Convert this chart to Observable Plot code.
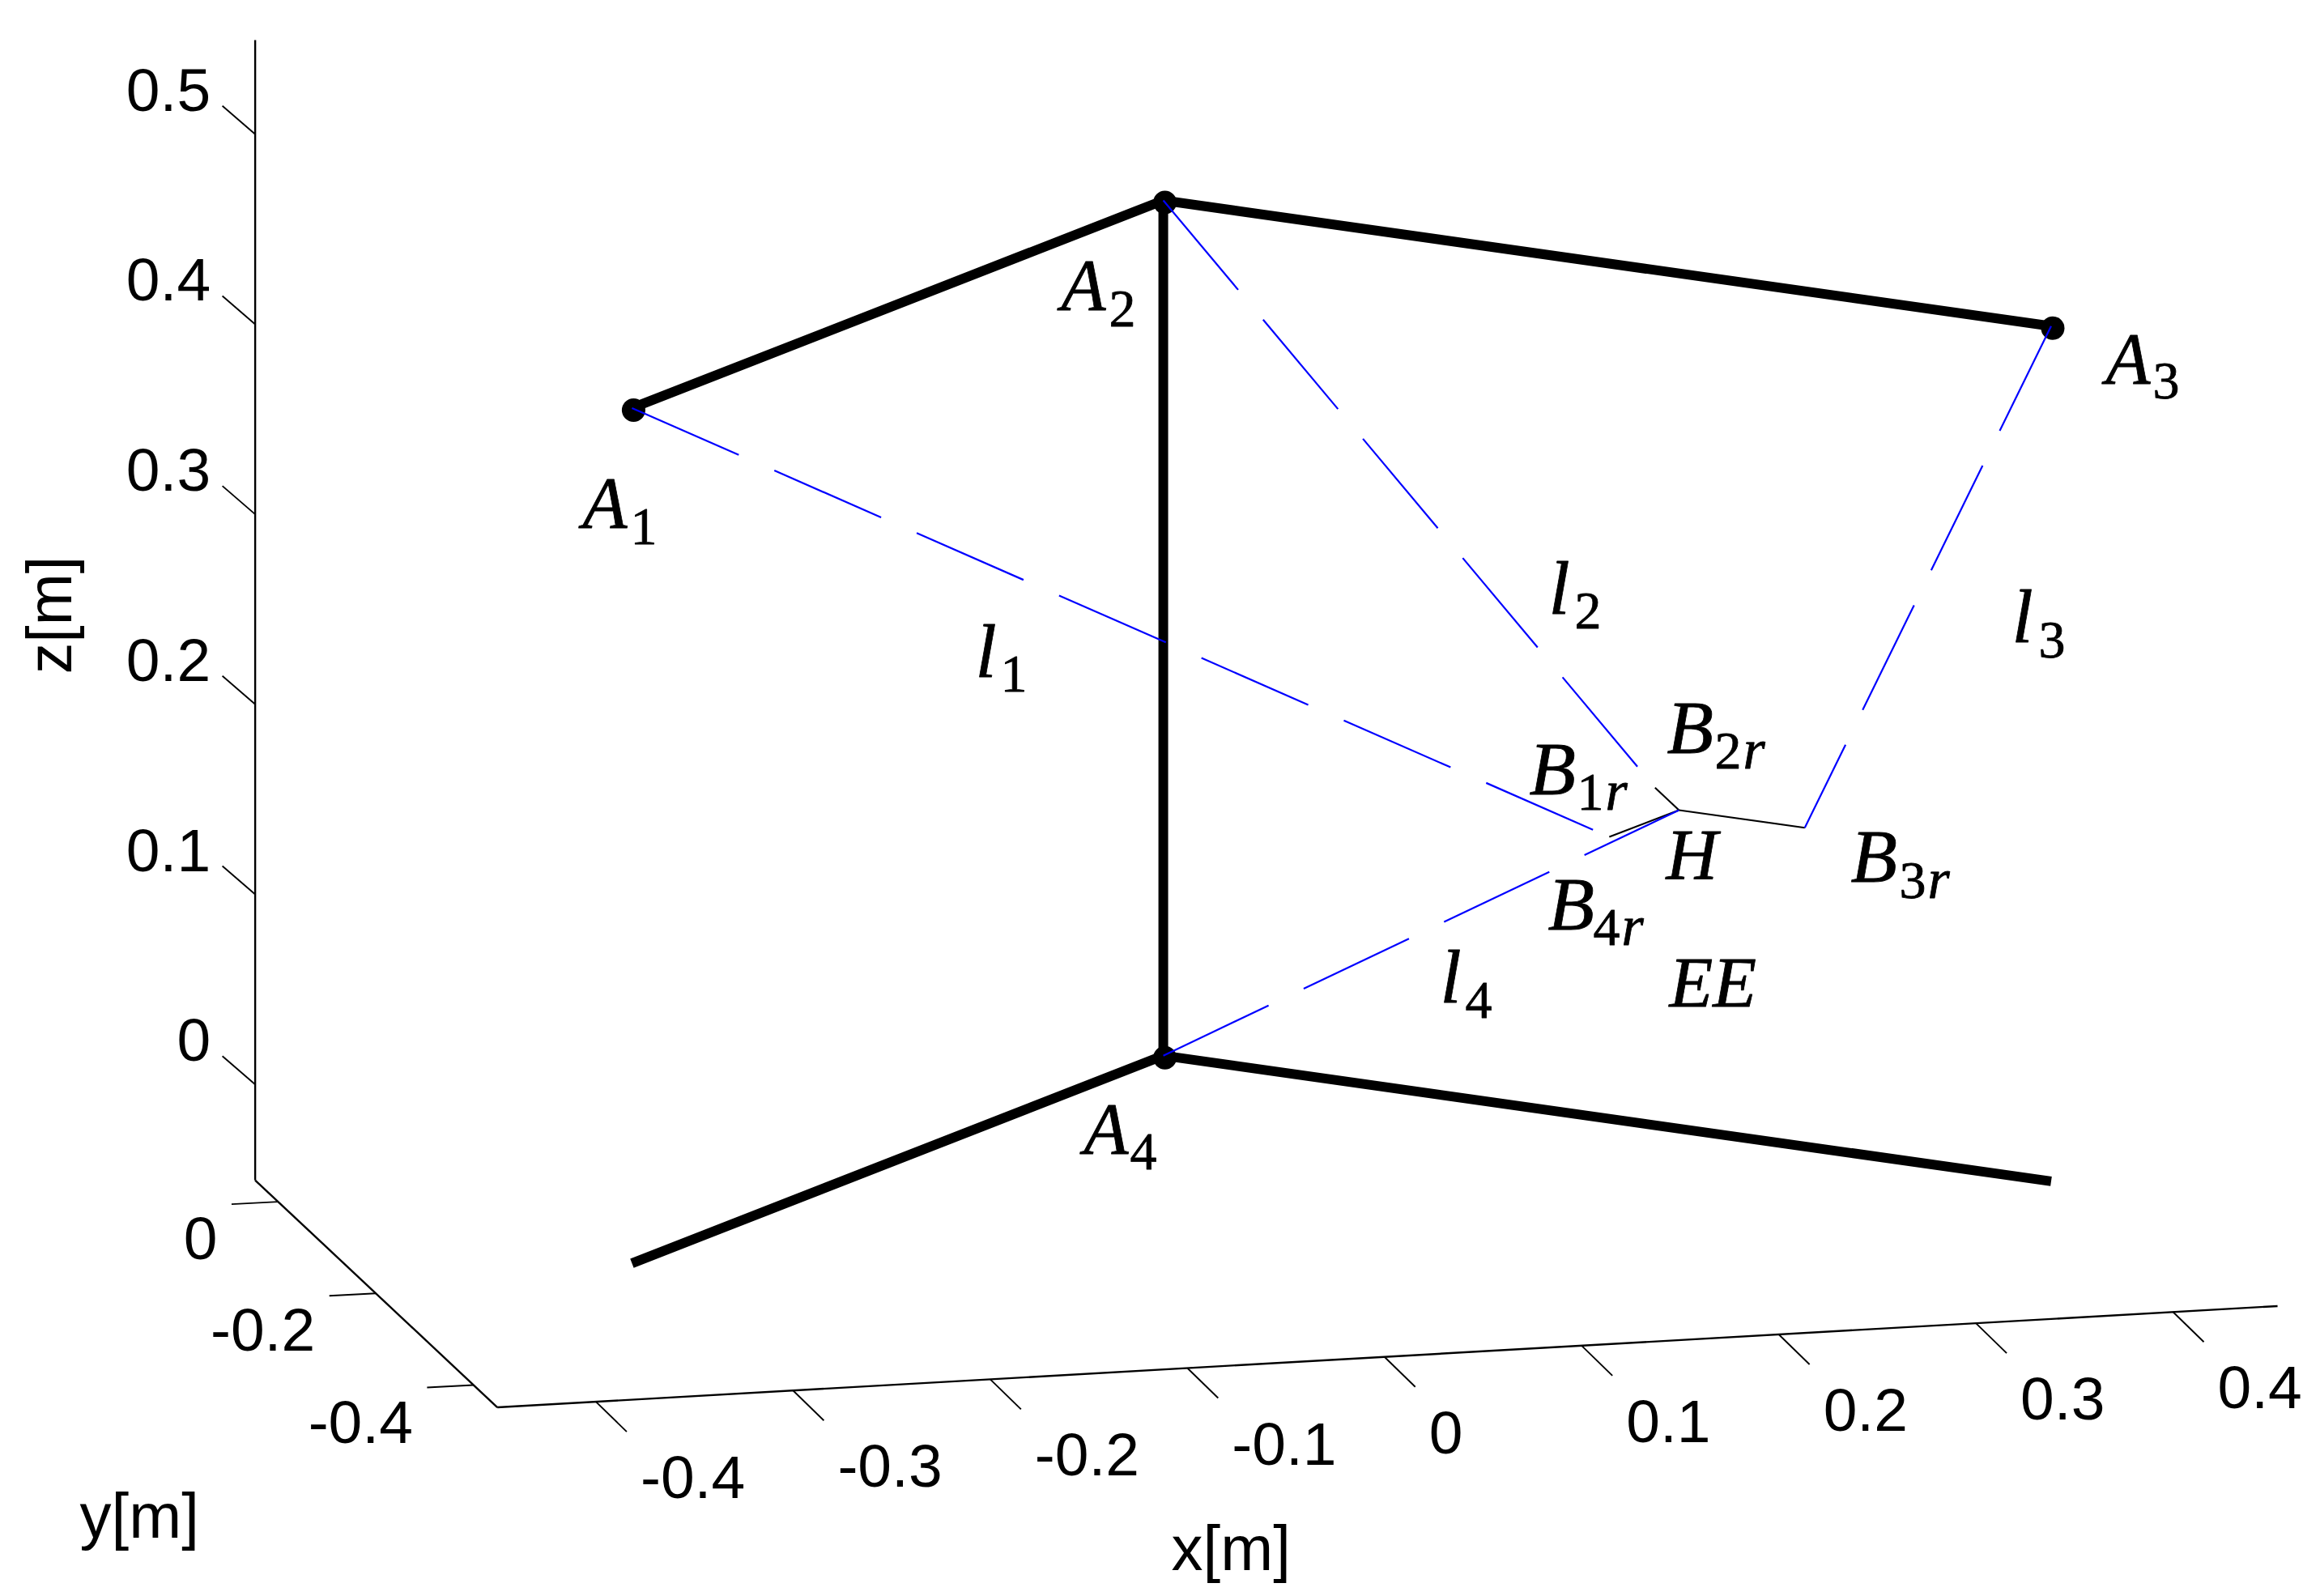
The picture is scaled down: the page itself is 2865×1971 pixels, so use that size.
<!DOCTYPE html>
<html>
<head>
<meta charset="utf-8">
<script src="https://cdn.jsdelivr.net/npm/d3@7"></script>
<script src="https://cdn.jsdelivr.net/npm/@observablehq/plot@0.6"></script>
<style>html,body{margin:0;padding:0;background:#fff}svg{display:block}</style>
</head>
<body>
<div id="chart"></div>
<script>
// Axis limits and ticks (metres)
const xLimits = [-0.45, 0.453];
const yLimits = [-0.4486, 0.047];
const zLimits = [-0.0504, 0.5495];
const xTicks = [-0.4, -0.3, -0.2, -0.1, 0, 0.1, 0.2, 0.3, 0.4];
const yTicks = [0, -0.2, -0.4];
const zTicks = [0, 0.1, 0.2, 0.3, 0.4, 0.5];

// Frame anchor points (x, y, z in metres)
const A1 = [-0.361, -0.365, 0.45];
const A2 = [-0.001, 0, 0.45];
const A3 = [0.3595, -0.3625, 0.45];
const A4 = [-0.001, 0, 0];
const F1 = [-0.361, -0.365, 0];
const F3 = [0.3595, -0.3625, 0];

// Moving platform
const H = [0.2234, -0.15, 0.1521];
const B1 = [0.1764, -0.197, 0.1521];
const B2 = [0.2234, -0.101, 0.1521];
const B3 = [0.2746, -0.2009, 0.1521];

const frameLines = [[A1, A2, A3], [F1, A4, F3], [A2, A4]];
const platformLines = [[B1, H], [B2, H], [B3, H]];
const cables = [[A1, B1], [A2, B2], [A3, B3], [A4, H]];
const anchors = [A1, A2, A3, A4];

// Projection of the MATLAB view: page units per metre
const origin = [1438.5, 1303];
const ex = [2434.5, -138.5], ey = [-603.5, -566], ez = [0, -2347];
const px = ([x, y, z]) => origin[0] + x * ex[0] + y * ey[0] + z * ez[0];
const py = ([x, y, z]) => origin[1] + x * ex[1] + y * ey[1] + z * ez[1];

const [xa, xb] = xLimits, [ya, yb] = yLimits, [za, zb] = zLimits;
const axisLines = [
  [[xa, ya, za], [xb, ya, za]],
  [[xa, ya, za], [xa, yb, za]],
  [[xa, yb, za], [xa, yb, zb]]
];
const xTickPts = xTicks.map(v => [v, ya, za]);
const yTickPts = yTicks.map(v => [xa, v, za]);
const zTickPts = zTicks.map(v => [xa, yb, v]);
const fmt = v => String(v);

// Symbol labels: main letter, subscript digit
const mainLabels = ["A","A","A","A","l","l","l","l","B","B","B","B","H","EE"];
const mainX = [719,1310,2600,1338,1204,1912,2484,1778,1888,2058,2285,1911,2057,2061];
const mainY = [651,382,473,1424,835,757,792,1237,980,929,1088,1147,1084,1242];
const subLabels = ["1","2","3","4","1","2","3","4","1","2","3","4"];
const subX = [778,1369,2658,1395,1235,1944,2517,1809,1947,2117,2345,1967];
const subY = [671,402,491,1443,853,775,811,1256,999,948,1108,1166];
const rX = subX.slice(8).map(v => v + 35);
const rY = subY.slice(8);

const sansFont = "Liberation Sans, Arial, sans-serif";
const mathFont = "Liberation Serif, Times New Roman, serif";
const tickFont = {fontFamily: sansFont, fontSize: 75, lineAnchor: "bottom", fill: "#000"};
const mathInk = {fill: "#000", stroke: "#000", strokeWidth: 0.8, textAnchor: "start", lineAnchor: "bottom", fontFamily: mathFont};
const lineStyle = {stroke: "#000", strokeLinecap: "butt", strokeLinejoin: "round"};
const idx = a => a.map((_, i) => i);

const plot = Plot.plot({
  width: 2865,
  height: 1971,
  margin: 0,
  style: {background: "#fff"},
  x: {domain: [0, 2865], range: [0, 2865], axis: null},
  y: {domain: [0, 1971], range: [0, 1971], axis: null},
  marks: [
    // axes
    ...axisLines.map(l => Plot.line(l, {x: px, y: py, ...lineStyle, strokeWidth: 2.4})),
    Plot.link(xTickPts, {x1: px, y1: py, x2: d => px(d) + 38, y2: d => py(d) + 37, ...lineStyle, strokeWidth: 1.9}),
    Plot.link(yTickPts, {x1: px, y1: py, x2: d => px(d) - 57.5, y2: d => py(d) + 3, ...lineStyle, strokeWidth: 1.9}),
    Plot.link(zTickPts, {x1: px, y1: py, x2: d => px(d) - 40.5, y2: d => py(d) - 35, ...lineStyle, strokeWidth: 1.9}),
    Plot.text(xTicks, {x: v => px([v, ya, za]), y: v => py([v, ya, za]), text: fmt, textAnchor: "start", dx: 55, dy: 119, ...tickFont}),
    Plot.text(yTicks, {x: v => px([xa, v, za]), y: v => py([xa, v, za]), text: fmt, textAnchor: "end", dx: -75, dy: 71, ...tickFont}),
    Plot.text(zTicks, {x: v => px([xa, yb, v]), y: v => py([xa, yb, v]), text: fmt, textAnchor: "end", dx: -55, dy: -29, ...tickFont}),
    // axis titles
    Plot.text(["x[m]"], {x: () => 1446, y: () => 1938, text: d => d, textAnchor: "start", ...tickFont, fontSize: 78}),
    Plot.text(["y[m]"], {x: () => 98, y: () => 1898, text: d => d, textAnchor: "start", ...tickFont, fontSize: 78}),
    Plot.text(["z[m]"], {x: () => 87, y: () => 759, text: d => d, textAnchor: "middle", rotate: -90, ...tickFont, fontSize: 77}),
    // frame
    ...frameLines.map(l => Plot.line(l, {x: px, y: py, ...lineStyle, strokeWidth: 12})),
    Plot.dot(anchors, {x: px, y: py, r: 14.5, fill: "#000", dx: 2, dy: 2.5}),
    // platform
    ...platformLines.map(l => Plot.line(l, {x: px, y: py, ...lineStyle, strokeWidth: 2.1})),
    // cables
    ...cables.map(l => Plot.line(l, {x: px, y: py, stroke: "#0000ff", strokeWidth: 2.2, strokeLinecap: "butt", strokeDasharray: "144,48"})),
    // symbols
    Plot.text(idx(mainLabels), {x: i => mainX[i], y: i => mainY[i], text: i => mainLabels[i], fontStyle: "italic", fontSize: i => (i >= 12 ? 88 : i < 4 ? 90 : 94), ...mathInk}),
    Plot.text(idx(subLabels), {x: i => subX[i], y: i => subY[i], text: i => subLabels[i], fontSize: 66, ...mathInk}),
    Plot.text(idx(rX), {x: i => rX[i], y: i => rY[i], text: () => "r", fontStyle: "italic", fontSize: 70, ...mathInk})
  ]
});
document.getElementById("chart").appendChild(plot);
</script>
</body>
</html>
